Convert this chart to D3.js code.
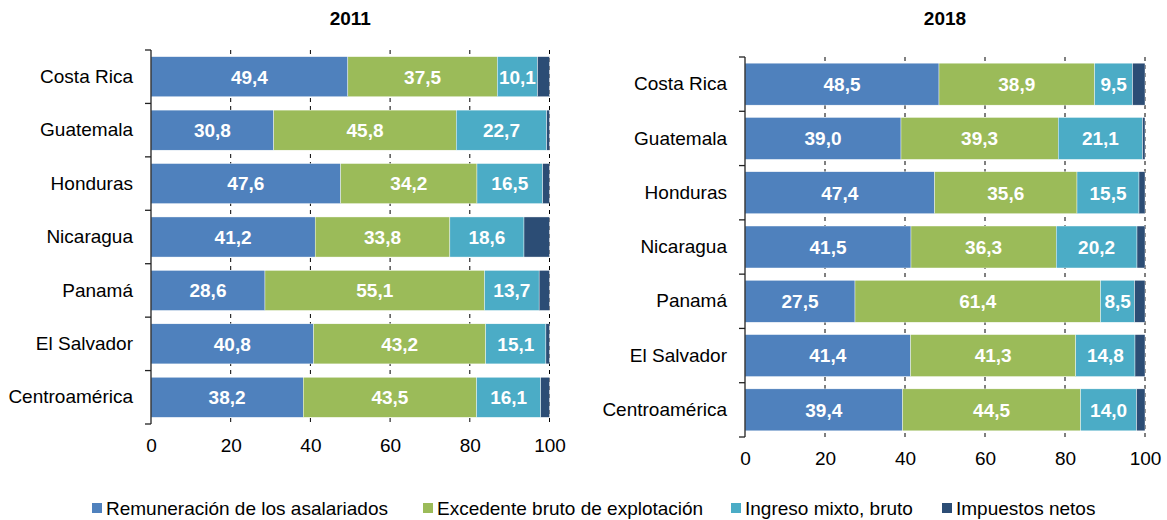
<!DOCTYPE html>
<html>
<head>
<meta charset="utf-8">
<script src="https://cdn.jsdelivr.net/npm/d3@7"></script>
<style>
  body { margin: 0; background: #fff; }
  svg { display: block; }
</style>
</head>
<body>
<svg id="chart" width="1167" height="520"></svg>
<script>
const countries = ["Costa Rica", "Guatemala", "Honduras", "Nicaragua", "Panamá", "El Salvador", "Centroamérica"];
const seriesNames = ["Remuneración de los asalariados", "Excedente bruto de explotación", "Ingreso mixto, bruto", "Impuestos netos"];
const xTicks = [0, 20, 40, 60, 80, 100];

const rem2011 = [49.4, 30.8, 47.6, 41.2, 28.6, 40.8, 38.2];
const exc2011 = [37.5, 45.8, 34.2, 33.8, 55.1, 43.2, 43.5];
const mix2011 = [10.1, 22.7, 16.5, 18.6, 13.7, 15.1, 16.1];
const imp2011 = [3.0, 0.7, 1.7, 6.4, 2.6, 0.9, 2.2];

const rem2018 = [48.5, 39.0, 47.4, 41.5, 27.5, 41.4, 39.4];
const exc2018 = [38.9, 39.3, 35.6, 36.3, 61.4, 41.3, 44.5];
const mix2018 = [9.5, 21.1, 15.5, 20.2, 8.5, 14.8, 14.0];
const imp2018 = [3.1, 0.6, 1.5, 2.0, 2.6, 2.5, 2.1];

const colours = ["#4F81BD", "#9BBB59", "#4BACC6", "#2C4D75"];
const fontFamily = "'Liberation Sans', Arial, Helvetica, sans-serif";
const fontSize = "19px";
const fmt = v => d3.format(".1f")(v).replace(".", ",");

const svg = d3.select("#chart");

function drawPanel(title, series, box) {
    const x = d3.scaleLinear().domain([0, 100]).range([box.left, box.right]);
    const y = d3.scaleBand().domain(countries).range([box.top, box.bottom])
        .paddingInner(box.pad).paddingOuter(box.pad / 2);
    const g = svg.append("g");

    g.append("text")
        .attr("x", (box.left + box.right) / 2)
        .attr("y", box.titleY)
        .attr("text-anchor", "middle")
        .style("font-family", fontFamily)
        .style("font-size", fontSize)
        .style("font-weight", "bold")
        .text(title);

    // dashed gridlines
    g.selectAll(".grid")
        .data(xTicks.filter(d => d > 0))
        .enter().append("line")
        .attr("x1", d => x(d)).attr("x2", d => x(d))
        .attr("y1", box.top).attr("y2", box.bottom)
        .style("stroke", "#000")
        .style("stroke-width", 1)
        .style("stroke-dasharray", "4,4");

    // stacked bars
    const segs = countries.map((c, i) => {
        let acc = 0;
        return series.map((s, k) => {
            const d = { country: c, k: k, v: s[i], x0: acc, x1: acc + s[i] };
            acc += s[i];
            return d;
        });
    }).flat();

    g.selectAll(".seg")
        .data(segs)
        .enter().append("rect")
        .attr("x", d => x(d.x0))
        .attr("width", d => Math.max(0, x(Math.min(d.x1, 100)) - x(d.x0)))
        .attr("y", d => y(d.country))
        .attr("height", y.bandwidth())
        .style("fill", d => colours[d.k])
        .style("stroke", "#ffffff")
        .style("stroke-width", 0.4);

    g.selectAll(".lbl")
        .data(segs.filter(d => d.k < 3))
        .enter().append("text")
        .attr("x", d => x((d.x0 + d.x1) / 2))
        .attr("y", d => y(d.country) + y.bandwidth() / 2)
        .attr("dy", "0.36em")
        .attr("text-anchor", "middle")
        .style("fill", "white")
        .style("font-family", fontFamily)
        .style("font-size", fontSize)
        .style("font-weight", "bold")
        .text(d => fmt(d.v));

    // left axis: labels, line and ticks on the band boundaries
    const yAxis = g.append("g")
        .attr("transform", "translate(" + box.left + ",0)")
        .call(d3.axisLeft(y).tickSize(0).tickPadding(18));
    yAxis.select(".domain").remove();
    yAxis.selectAll("text")
        .style("font-family", fontFamily)
        .style("font-size", fontSize)
        .style("fill", "#000");

    g.append("line")
        .attr("x1", box.left).attr("x2", box.left)
        .attr("y1", box.top).attr("y2", box.bottom)
        .style("stroke", "#222").style("stroke-width", 1.3);
    const step = (box.bottom - box.top) / countries.length;
    g.selectAll(".btick")
        .data(d3.range(countries.length + 1))
        .enter().append("line")
        .attr("x1", box.left - 6).attr("x2", box.left)
        .attr("y1", d => box.top + d * step).attr("y2", d => box.top + d * step)
        .style("stroke", "#222").style("stroke-width", 1.3);

    const xAxis = g.append("g")
        .attr("transform", "translate(0," + box.bottom + ")")
        .call(d3.axisBottom(x).tickValues(xTicks).tickSize(0).tickPadding(15));
    xAxis.select(".domain").remove();
    xAxis.selectAll("text")
        .style("font-family", fontFamily)
        .style("font-size", fontSize)
        .style("fill", "#000");
}

drawPanel("2011", [rem2011, exc2011, mix2011, imp2011],
    { left: 151, right: 549.5, top: 50, bottom: 424, pad: 0.25, titleY: 25 });
drawPanel("2018", [rem2018, exc2018, mix2018, imp2018],
    { left: 745, right: 1145, top: 57, bottom: 437, pad: 0.227, titleY: 25 });

// legend
const legendX = [92, 423, 731, 942];
const legend = svg.append("g");
seriesNames.forEach((name, i) => {
    legend.append("rect")
        .attr("x", legendX[i]).attr("y", 503)
        .attr("width", 10).attr("height", 10)
        .style("fill", colours[i]);
    legend.append("text")
        .attr("x", legendX[i] + 14).attr("y", 515)
        .style("font-family", fontFamily)
        .style("font-size", fontSize)
        .style("fill", "#000")
        .text(name);
});
</script>
</body>
</html>
